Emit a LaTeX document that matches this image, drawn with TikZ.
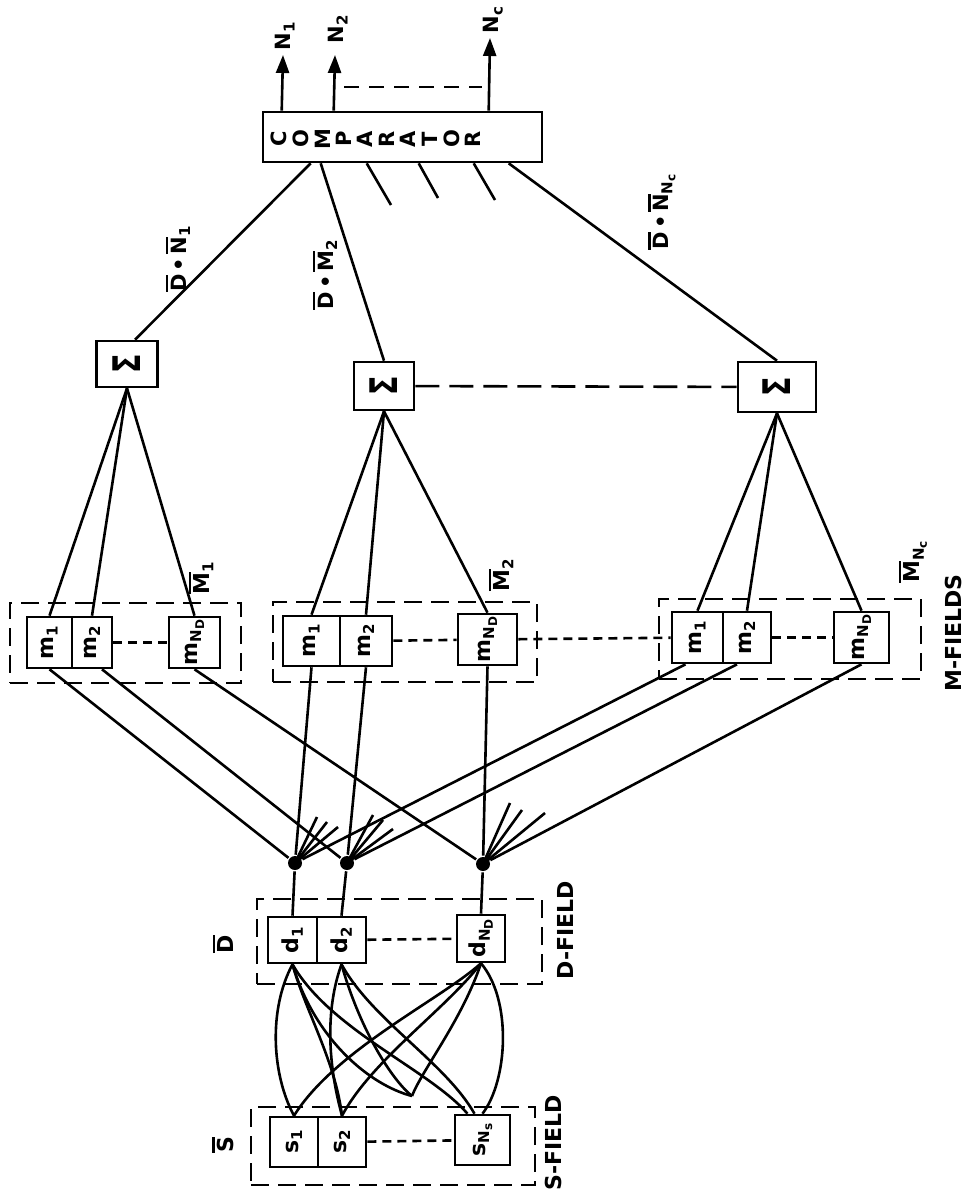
\documentclass[tikz,border=0pt]{standalone}
\usepackage{fontspec}
\setmainfont{DejaVu Sans}
\usepackage{graphicx}
\usetikzlibrary{arrows.meta}

\newcommand{\rt}[1]{\rotatebox{90}{#1}}
\newcommand{\ovl}[1]{\vbox{\hrule height 2.2pt\kern 2.5pt\hbox{#1}}}
\newcommand{\sbs}[1]{\raisebox{-4pt}{\fontsize{15}{16}\selectfont #1}}
\newcommand{\ssbs}[1]{\raisebox{-3pt}{\fontsize{12}{13}\selectfont #1}}

\begin{document}
\begin{tikzpicture}[x=1pt,y=-1pt,line width=2.6pt]
		\tikzstyle{every node}=[font=\bfseries\fontsize{22}{24}\selectfont,inner sep=0pt]
		\tikzstyle{box}=[draw,minimum height=50pt]
		\tikzstyle{field}=[draw,dash pattern=on 18pt off 9pt,minimum height=80pt]
		\tikzstyle{dot}=[circle,fill,minimum size=14pt]
		\tikzstyle{gap}=[dash pattern=on 9pt off 6pt]
		\tikzstyle{small}=[font=\bfseries\fontsize{21}{23}\selectfont]
		\useasboundingbox (0,0) rectangle (964,1194);

		% comparator and outputs
		\node[box,minimum width=279pt] (comp) at (402.5,137) {};
		\node at (379,139) {\rt{\fontsize{21}{20.5}\selectfont\begin{tabular}{@{}c@{}}C\\O\\M\\P\\A\\R\\A\\T\\O\\R\end{tabular}}};
		\coordinate (n1) at (283,55);
		\coordinate (n2) at (335,55);
		\coordinate (nc) at (490,38);
		\draw[-{Triangle[length=18pt,width=13pt]}] ([xshift=20pt]comp.north west) -- (n1);
		\draw[-{Triangle[length=18pt,width=13pt]}] ([xshift=72pt]comp.north west) -- (n2);
		\draw[-{Triangle[length=18pt,width=13pt]}] ([xshift=227pt]comp.north west) -- (nc);
		\node[small] (ln1) at (285,36) {\rt{N\sbs{1}}};
		\node[small] (ln2) at (338,29) {\rt{N\sbs{2}}};
		\node[small] (lnc) at (493,20) {\rt{N\sbs{c}}};
		\coordinate (na) at (344,87);
		\coordinate (nb) at (482,87);
		\draw[dash pattern=on 15pt off 10pt] (na) -- (nb);

		% sums
		\node[box,minimum width=61pt,minimum height=46pt] (sum1) at (127,364) {\rt{\fontsize{38}{40}\selectfont\scalebox{0.75}[1]{Σ}}};
		\node[box,minimum width=60pt,minimum height=48pt] (sum2) at (384,386) {\rt{\fontsize{38}{40}\selectfont\scalebox{0.75}[1]{Σ}}};
		\node[box,minimum width=78pt,minimum height=50pt] (sum3) at (777,387) {\rt{\fontsize{38}{40}\selectfont\scalebox{0.75}[1]{Σ}}};
		\draw ([xshift=8pt]sum1.north) -- ([xshift=49pt]comp.south west);
		\draw (sum2.north) -- ([xshift=59pt]comp.south west);
		\draw (sum3.north) -- ([xshift=247pt]comp.south west);
		\coordinate (t1) at (391,205);
		\coordinate (t2) at (438,198);
		\coordinate (t3) at (495,200);
		\draw ([xshift=105pt]comp.south west) -- (t1);
		\draw ([xshift=157pt]comp.south west) -- (t2);
		\draw ([xshift=212pt]comp.south west) -- (t3);
		\draw[dash pattern=on 24pt off 10pt] (sum2) -- (sum3);
		\node[small] (lk1) at (178,259) {\rt{\ovl{D}\,•\,\ovl{N}\sbs{1}}};
		\node[small] (lk2) at (325,275) {\rt{\ovl{D}\,•\,\ovl{M}\sbs{2}}};
		\node[small] (lk3) at (662,212) {\rt{\ovl{D}\,•\,\ovl{N}\sbs{N\ssbs{c}}}};

		% m-fields
		\node[field,minimum width=231pt] (F1) at (125.5,643) {};
		\node[field,minimum width=264pt] (F2) at (405,642) {};
		\node[field,minimum width=262pt] (F3) at (790,639) {};
		\node[box,minimum width=45pt,minimum height=51pt] (m11) at (49.5,642.5) {\rt{m\sbs{1}}};
		\node[box,minimum width=40pt,minimum height=51pt] (m12) at (92,642.5) {\rt{m\sbs{2}}};
		\node[box,minimum width=51pt,minimum height=51pt] (m13) at (194.5,642.5) {\rt{m\sbs{N\ssbs{D}}}};
		\node[box,minimum width=57pt] (m21) at (311.5,641) {\rt{m\sbs{1}}};
		\node[box,minimum width=52pt] (m22) at (366,641) {\rt{m\sbs{2}}};
		\node[box,minimum width=59pt,minimum height=51pt] (m23) at (487.5,639.5) {\rt{m\sbs{N\ssbs{D}}}};
		\node[box,minimum width=51pt,minimum height=51pt] (m31) at (697.5,637.5) {\rt{m\sbs{1}}};
		\node[box,minimum width=48pt,minimum height=51pt] (m32) at (747,637.5) {\rt{m\sbs{2}}};
		\node[box,minimum width=55pt,minimum height=51pt] (m33) at (861.5,637.5) {\rt{m\sbs{N\ssbs{D}}}};
		\draw[gap] (m12) -- (m13);
		\draw[gap] (m22) -- (m23);
		\draw[gap] (m23) -- (m31);
		\draw[gap] (m32) -- (m33);
		\node (lM1) at (201,578) {\rt{\ovl{M}\sbs{1}}};
		\node (lM2) at (501,575) {\rt{\ovl{M}\sbs{2}}};
		\node (lM3) at (913,562) {\rt{\ovl{M}\sbs{N\ssbs{c}}}};
		\node (lMF) at (953,633) {\rt{M-FIELDS}};
		\foreach \m in {m11,m12,m13} \draw (sum1.south) -- (\m.north);
		\foreach \m in {m21,m22,m23} \draw (sum2.south) -- (\m.north);
		\foreach \m in {m31,m32,m33} \draw (sum3.south) -- (\m.north);

		% junctions
		\node[dot] (p1) at (295,863) {};
		\node[dot] (p2) at (347,863) {};
		\node[dot] (p3) at (483,864) {};
		\draw (m11.south) -- (p1);
		\draw (m21.south) -- (p1);
		\draw ([xshift=-12pt]m31.south) -- (p1);
		\draw ([xshift=10pt]m12.south) -- (p2);
		\draw (m22.south) -- (p2);
		\draw ([xshift=-10pt]m32.south) -- (p2);
		\draw (m13.south) -- (p3);
		\draw (m23.south) -- (p3);
		\draw (m33.south) -- (p3);
		\coordinate (a1) at (317,817);
		\coordinate (a2) at (327,822);
		\coordinate (a3) at (338,827);
		\coordinate (b1) at (373,815);
		\coordinate (b2) at (383,820);
		\coordinate (b3) at (393,829);
		\coordinate (c1) at (510,803);
		\coordinate (c2) at (522,810);
		\coordinate (c3) at (545,813);
		\foreach \e in {a1,a2,a3} \draw (p1.center) -- (\e);
		\foreach \e in {b1,b2,b3} \draw (p2.center) -- (\e);
		\foreach \e in {c1,c2,c3} \draw (p3.center) -- (\e);

		% d-field
		\node[field,minimum width=285pt,minimum height=85pt] (DF) at (399.5,941.5) {};
		\node[box,minimum width=49pt,minimum height=46pt] (d1) at (292.5,940) {\rt{d\sbs{1}}};
		\node[box,minimum width=49pt,minimum height=46pt] (d2) at (341.5,940) {\rt{d\sbs{2}}};
		\node[box,minimum width=48pt,minimum height=47pt] (d3) at (481,938.5) {\rt{d\sbs{N\ssbs{D}}}};
		\draw[gap] (d2) -- (d3);
		\draw (d1.north) -- (p1);
		\draw (d2.north) -- (p2);
		\draw (d3.north) -- (p3);
		\node (lD) at (223,944) {\rt{\ovl{D}}};
		\node (lDF) at (565,930) {\rt{D-FIELD}};

		% s-field
		\node[field,minimum width=284pt,minimum height=78pt] (SF) at (393,1146) {};
		\node[box,minimum width=48pt] (s1) at (294,1142) {\rt{s\sbs{1}}};
		\node[box,minimum width=48pt] (s2) at (342,1142) {\rt{s\sbs{2}}};
		\node[box,minimum width=55pt] (s3) at (482.5,1140) {\rt{s\sbs{N\ssbs{s}}}};
		\draw[gap] (s2) -- (s3);
		\node (lS) at (223,1145) {\rt{\ovl{S}}};
		\node (lSF) at (553,1143) {\rt{S-FIELD}};

		% s to d connections
		\coordinate (mid) at (412,1096);
		\draw (d1.south) .. controls (268,1010) and (272,1075) .. (s1.north);
		\draw (d1.south) .. controls (305,1010) and (335,1060) .. (s2.north);
		\draw (d1.south) .. controls (315,1040) and (370,1085) .. (mid);
		\draw (d1.south) .. controls (330,1030) and (430,1070) .. ([xshift=-15pt]s3.north);
		\draw (d2.south) .. controls (325,1010) and (328,1065) .. (s2.north);
		\draw (d2.south) .. controls (360,1030) and (392,1080) .. (mid);
		\draw (d2.south) .. controls (372,1020) and (445,1062) .. ([xshift=-8pt]s3.north);
		\draw (d3.south) .. controls (440,1000) and (335,1050) .. (s1.north);
		\draw (d3.south) .. controls (445,1010) and (372,1060) .. (s2.north);
		\draw (d3.south) .. controls (462,1020) and (422,1070) .. (mid);
		\draw (d3.south) .. controls (512,1000) and (508,1080) .. (s3.north);
\end{tikzpicture}
\end{document}
